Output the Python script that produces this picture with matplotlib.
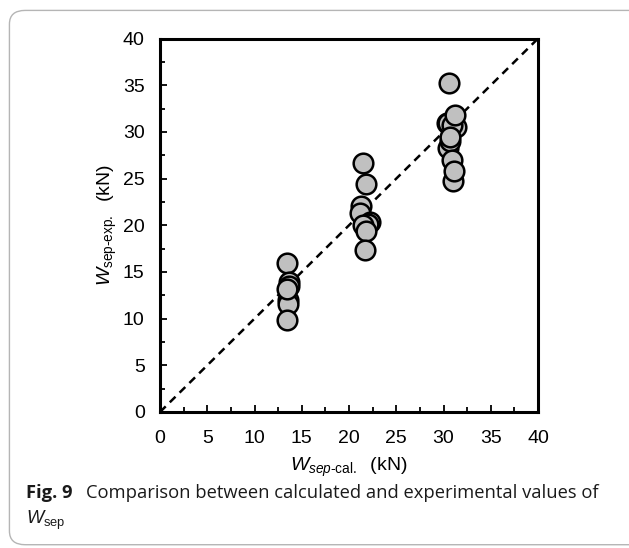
import matplotlib
matplotlib.use("Agg")
import matplotlib.pyplot as plt
from matplotlib.patches import FancyBboxPatch

# Data (kN)
cal_14 = [13.4, 13.6, 13.7, 13.5, 13.5, 13.4, 13.4]
exp_14 = [16.0, 13.9, 13.5, 12.0, 11.6, 13.2, 9.9]

cal_22 = [21.5, 21.8, 21.3, 21.2, 22.2, 22.0, 21.5, 21.8, 21.7]
exp_22 = [26.7, 24.4, 22.1, 21.3, 20.3, 20.1, 20.0, 19.4, 17.3]

cal_31 = [30.6, 30.4, 30.5, 31.3, 30.9, 31.2, 30.5, 30.7, 30.9, 31.0, 31.1, 30.7]
exp_31 = [35.2, 30.9, 31.0, 30.5, 30.7, 31.8, 28.3, 29.0, 27.0, 24.7, 25.8, 29.5]

cal_all = cal_14 + cal_22 + cal_31
exp_all = exp_14 + exp_22 + exp_31

ticks = [0, 5, 10, 15, 20, 25, 30, 35, 40]

plt.rcParams['mathtext.fontset'] = 'custom'
plt.rcParams['mathtext.rm'] = 'Liberation Sans'
plt.rcParams['mathtext.it'] = 'Liberation Sans:italic'
plt.rcParams['mathtext.bf'] = 'Liberation Sans:bold'

fig = plt.figure(figsize=(6.29, 5.48), dpi=100)
ax = fig.add_axes([0.2544, 0.2482, 0.601, 0.6815])

ax.plot([0, 40], [0, 40], color='black', lw=1.8, ls=(0, (3.2, 2.3)), zorder=1)
ax.scatter(cal_all, exp_all, s=200, facecolor='#c0c0c0', edgecolor='black',
           linewidth=1.8, zorder=3)

ax.set_xlim(0, 40)
ax.set_ylim(0, 40)
ax.set_xticks(ticks)
ax.set_yticks(ticks)
ax.set_xticks([2.5 + 5 * i for i in range(8)], minor=True)
ax.set_yticks([2.5 + 5 * i for i in range(8)], minor=True)
ax.tick_params(which='major', direction='in', length=5, width=1.3,
               labelsize=14, pad=11)
ax.tick_params(axis='x', which='major', pad=13)
ax.tick_params(which='minor', direction='in', length=3.5, width=1.3)
for lbl in ax.get_xticklabels() + ax.get_yticklabels():
    lbl.set_fontfamily('Liberation Sans')
for sp in ax.spines.values():
    sp.set_linewidth(2.2)

ax.set_xlabel(r'$W_{sep\mathrm{‐cal.}}$  (kN)', fontsize=14,
              fontfamily='Liberation Sans', labelpad=6)
ax.set_ylabel(r'$W_{\mathrm{sep‐exp.}}$  (kN)', fontsize=14,
              fontfamily='Liberation Sans', labelpad=3)

# caption
fig.text(0.042, 0.092, 'Fig. 9', fontsize=13.2, fontweight='bold',
         fontfamily='Open Sans', va='baseline', color='#1a1a1a')
fig.text(0.137, 0.092, 'Comparison between calculated and experimental values of',
         fontsize=13.2, fontfamily='Open Sans', va='baseline', color='#1a1a1a')
fig.text(0.042, 0.043, r'$W_{\mathrm{sep}}$', fontsize=13.2,
         fontfamily='Open Sans', va='baseline', color='#1a1a1a')

# rounded frame
frame = FancyBboxPatch((0.015, 0.006), 1.2, 0.975,
                       boxstyle='round,pad=0,rounding_size=0.025',
                       transform=fig.transFigure, facecolor='none',
                       edgecolor='#b5b5b5', linewidth=1.0, clip_on=False)
fig.patches.append(frame)

fig.savefig('out.png', dpi=100)
